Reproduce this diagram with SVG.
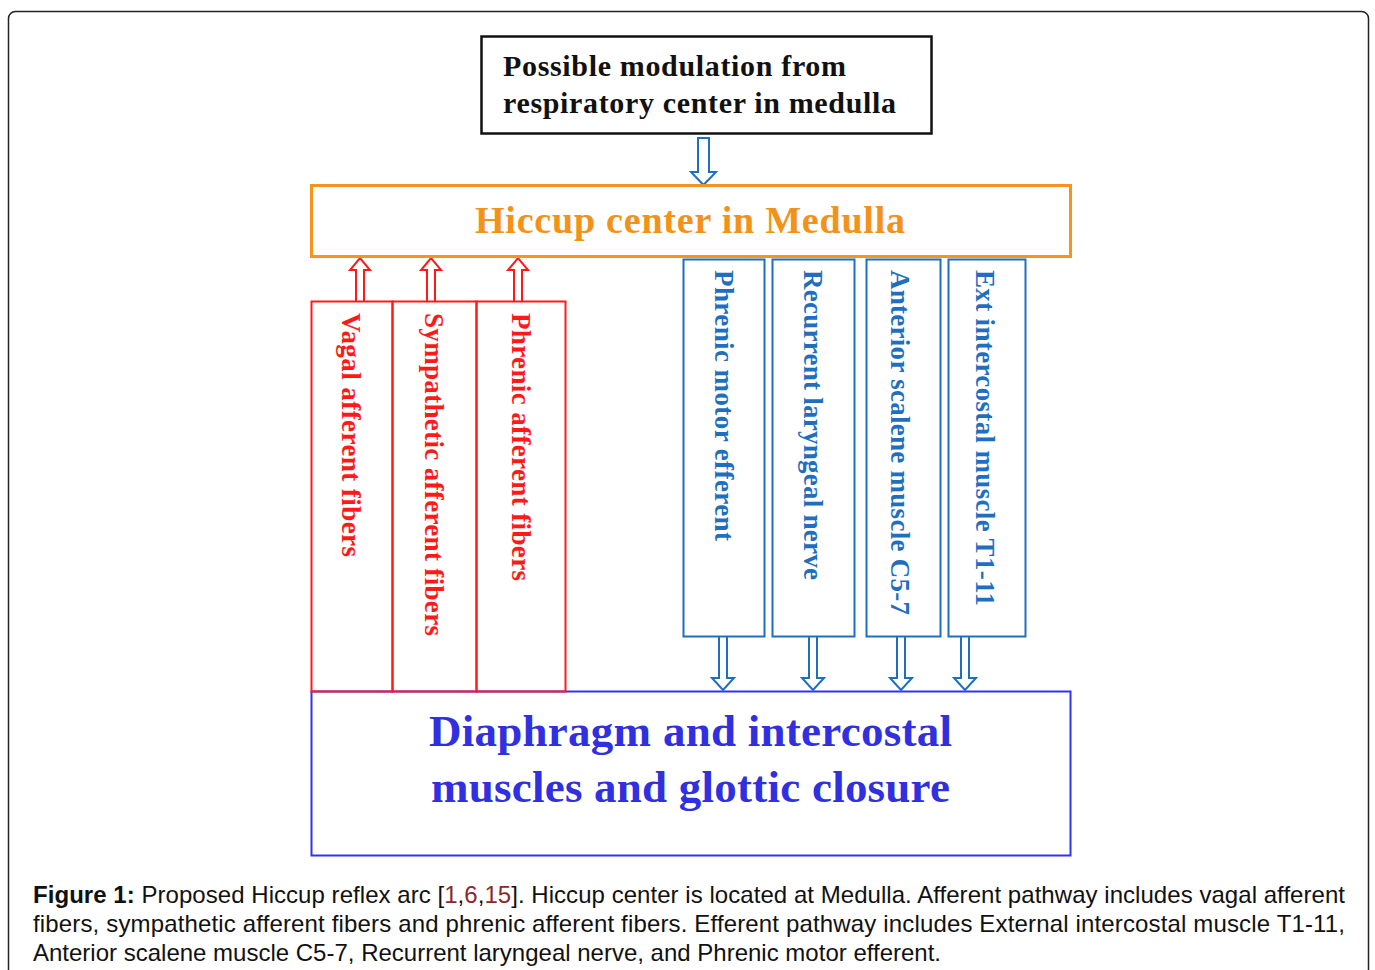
<svg xmlns="http://www.w3.org/2000/svg" width="1375" height="970" viewBox="0 0 1375 970">
<style>
.serif{font-family:"Liberation Serif","Times New Roman",serif;font-weight:bold}
.red{fill:#ff1a1a}
.blue{fill:#1f6fc0}
.vt{font-size:27px}
.cap{font-family:"Liberation Sans",Arial,sans-serif;font-size:24px;fill:#111}
.cite{fill:#8b2a2a}
.rarr{fill:#fff;stroke:#ff1a1a;stroke-width:2}
.barr{fill:#fff;stroke:#1f6fc0;stroke-width:2}
</style>
<rect x="8.5" y="11.5" width="1360" height="1000" rx="7" fill="#fff" stroke="#222" stroke-width="1.5"/>

<g id="diaphragm">
  <rect x="311.5" y="691.5" width="759" height="164" fill="none" stroke="#3333ee" stroke-width="2"/>
  <text class="serif" x="429" y="746" font-size="45" fill="#3030e0" textLength="523">Diaphragm and intercostal</text>
  <text class="serif" x="431" y="802" font-size="45" fill="#3030e0" textLength="519">muscles and glottic closure</text>
</g>

<g id="connectors">
  <path class="barr" d="M698,138 H709 V172 H716 L703.5,185 L691,172 H698 Z"/>
  <path class="rarr" d="M356,301 V270 H350 L360,258 L370,270 H364 V301"/>
  <path class="rarr" d="M427,301 V270 H421 L431,258 L441,270 H435 V301"/>
  <path class="rarr" d="M514,301 V270 H508 L518,258 L528,270 H522 V301"/>
  <path class="barr" d="M719,637 V678 H712 L723,690 L734,678 H727 V637"/>
  <path class="barr" d="M809,637 V678 H802 L813,690 L824,678 H817 V637"/>
  <path class="barr" d="M897,637 V678 H890 L901,690 L912,678 H905 V637"/>
  <path class="barr" d="M961,637 V678 H954 L965,690 L976,678 H969 V637"/>
</g>

<g id="modulation">
  <rect x="481.5" y="36.5" width="450" height="97" fill="#fff" stroke="#111" stroke-width="2.5"/>
  <text class="serif" x="503" y="76" font-size="30" fill="#111" textLength="343">Possible modulation from</text>
  <text class="serif" x="503" y="113" font-size="30" fill="#111" textLength="393">respiratory center in medulla</text>
</g>

<g id="hiccup-center">
  <rect x="311.5" y="185.5" width="759" height="71" fill="#fff" stroke="#f7941d" stroke-width="3"/>
  <text class="serif" x="475" y="233" font-size="38" fill="#f39219" textLength="430">Hiccup center in Medulla</text>
</g>

<g id="vagal">
  <rect x="311.5" y="301.5" width="81" height="390" fill="none" stroke="#ff1a1a" stroke-width="2"/>
  <text class="serif red vt" transform="translate(342,313) rotate(90)" textLength="244">Vagal afferent fibers</text>
</g>
<g id="sympathetic">
  <rect x="392.5" y="301.5" width="84" height="390" fill="none" stroke="#ff1a1a" stroke-width="2"/>
  <text class="serif red vt" transform="translate(425,313) rotate(90)" textLength="323">Sympathetic afferent fibers</text>
</g>
<g id="phrenic-afferent">
  <rect x="476.5" y="301.5" width="89" height="390" fill="none" stroke="#ff1a1a" stroke-width="2"/>
  <text class="serif red vt" transform="translate(512,313) rotate(90)" textLength="268">Phrenic afferent fibers</text>
</g>

<g id="phrenic-motor">
  <rect x="683.5" y="259.5" width="81" height="377" fill="none" stroke="#1f6fc0" stroke-width="2"/>
  <text class="serif blue vt" transform="translate(715,270) rotate(90)" textLength="271">Phrenic motor efferent</text>
</g>
<g id="recurrent">
  <rect x="772.5" y="259.5" width="82" height="377" fill="none" stroke="#1f6fc0" stroke-width="2"/>
  <text class="serif blue vt" transform="translate(804,270) rotate(90)" textLength="310">Recurrent laryngeal nerve</text>
</g>
<g id="scalene">
  <rect x="866.5" y="259.5" width="74" height="377" fill="none" stroke="#1f6fc0" stroke-width="2"/>
  <text class="serif blue vt" transform="translate(891,270) rotate(90)" textLength="345">Anterior scalene muscle C5-7</text>
</g>
<g id="intercostal">
  <rect x="948.5" y="259.5" width="77" height="377" fill="none" stroke="#1f6fc0" stroke-width="2"/>
  <text class="serif blue vt" transform="translate(976,270) rotate(90)" textLength="336">Ext intercostal muscle T1-11</text>
</g>

<g id="caption">
  <text class="cap" x="33" y="903" textLength="1312" lengthAdjust="spacing"><tspan font-weight="bold">Figure 1:</tspan> Proposed Hiccup reflex arc [<tspan class="cite">1</tspan>,<tspan class="cite">6</tspan>,<tspan class="cite">15</tspan>]. Hiccup center is located at Medulla. Afferent pathway includes vagal afferent</text>
  <text class="cap" x="33" y="932" textLength="1312" lengthAdjust="spacing">fibers, sympathetic afferent fibers and phrenic afferent fibers. Efferent pathway includes External intercostal muscle T1-11,</text>
  <text class="cap" x="33" y="961">Anterior scalene muscle C5-7, Recurrent laryngeal nerve, and Phrenic motor efferent.</text>
</g>
</svg>
